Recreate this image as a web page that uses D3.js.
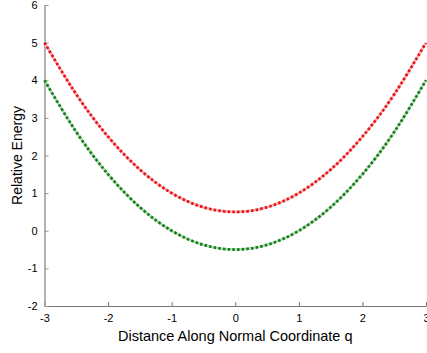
<!DOCTYPE html>
<html>
<head>
<meta charset="utf-8">
<script src="https://cdn.jsdelivr.net/npm/d3@7"></script>
<style>
  body { margin: 0; background: #fff; }
  text { font-family: "Liberation Sans", Arial, sans-serif; }
</style>
</head>
<body>
<div id="vis"></div>
<script>
// data
var qValues = [-3, -2.5, -2, -1.5, -1, -0.5, 0, 0.5, 1, 1.5, 2, 2.5, 3],
  upperCurve = [5, 3.625, 2.5, 1.625, 1.0, 0.625, 0.5, 0.625, 1.0, 1.625, 2.5, 3.625, 5],
  lowerCurve = [4, 2.625, 1.5, 0.625, 0, -0.375, -0.5, -0.375, 0, 0.625, 1.5, 2.625, 4],
  xTicks = [-3, -2, -1, 0, 1, 2, 3],
  yTicks = [-2, -1, 0, 1, 2, 3, 4, 5, 6];

var margin = {top: 5, right: 1, bottom: 47, left: 44.5},
  width = 427 - margin.left - margin.right,
  height = 353 - margin.top - margin.bottom;

var svg = d3.select("#vis").append("svg")
  .attr("width", 427)
  .attr("height", 353);

var g = svg.append("g")
  .attr("transform", "translate(" + margin.left + "," + margin.top + ")");

var x = d3.scaleLinear().domain([-3, 3]).range([0, width]);
var y = d3.scaleLinear().domain([-2, 6]).range([height, 0]);

// plain hyphen labels like the original
var fmt = function(d) { return String(d); };

// axes, MATLAB style with inward ticks
var xAxis = g.append("g")
  .attr("transform", "translate(0," + height + ")")
  .call(d3.axisBottom(x).tickValues(xTicks).tickFormat(fmt).tickSizeInner(-4).tickSizeOuter(0).tickPadding(8));
xAxis.select(".domain").attr("stroke", "#777");
xAxis.selectAll(".tick line").attr("stroke", "#777");
xAxis.selectAll("text").attr("font-size", 11).attr("fill", "#000");

var yAxis = g.append("g")
  .call(d3.axisLeft(y).tickValues(yTicks).tickFormat(fmt).tickSizeInner(-4).tickSizeOuter(0).tickPadding(7));
yAxis.select(".domain").attr("stroke", "#999").attr("stroke-width", 1.5);
yAxis.selectAll(".tick line").attr("stroke", "#999");
yAxis.selectAll("text").attr("font-size", 11).attr("fill", "#000");

var line = d3.line()
  .x(function(d) { return x(d[0]); })
  .y(function(d) { return y(d[1]); })
  .curve(d3.curveNatural);

var series = [
  {values: upperCurve, color: "#e8141a", light: "#f6b4b4"},
  {values: lowerCurve, color: "#13801a", light: "#b2d8b0"}
];

series.forEach(function(s) {
  var pts = qValues.map(function(q, i) { return [q, s.values[i]]; });
  g.append("path")
    .attr("d", line(pts))
    .attr("fill", "none")
    .attr("stroke", s.light)
    .attr("stroke-width", 2.5);
  g.append("path")
    .attr("d", line(pts))
    .attr("fill", "none")
    .attr("stroke", s.color)
    .attr("stroke-width", 2.8)
    .attr("stroke-dasharray", "2.5,2.2");
});

// axis titles
svg.append("text")
  .attr("x", margin.left + width / 2)
  .attr("y", 341)
  .attr("text-anchor", "middle")
  .attr("font-size", 14.5)
  .text("Distance Along Normal Coordinate q");

svg.append("text")
  .attr("transform", "translate(22," + (margin.top + height / 2) + ") rotate(-90)")
  .attr("text-anchor", "middle")
  .attr("font-size", 14)
  .text("Relative Energy");
</script>
</body>
</html>
